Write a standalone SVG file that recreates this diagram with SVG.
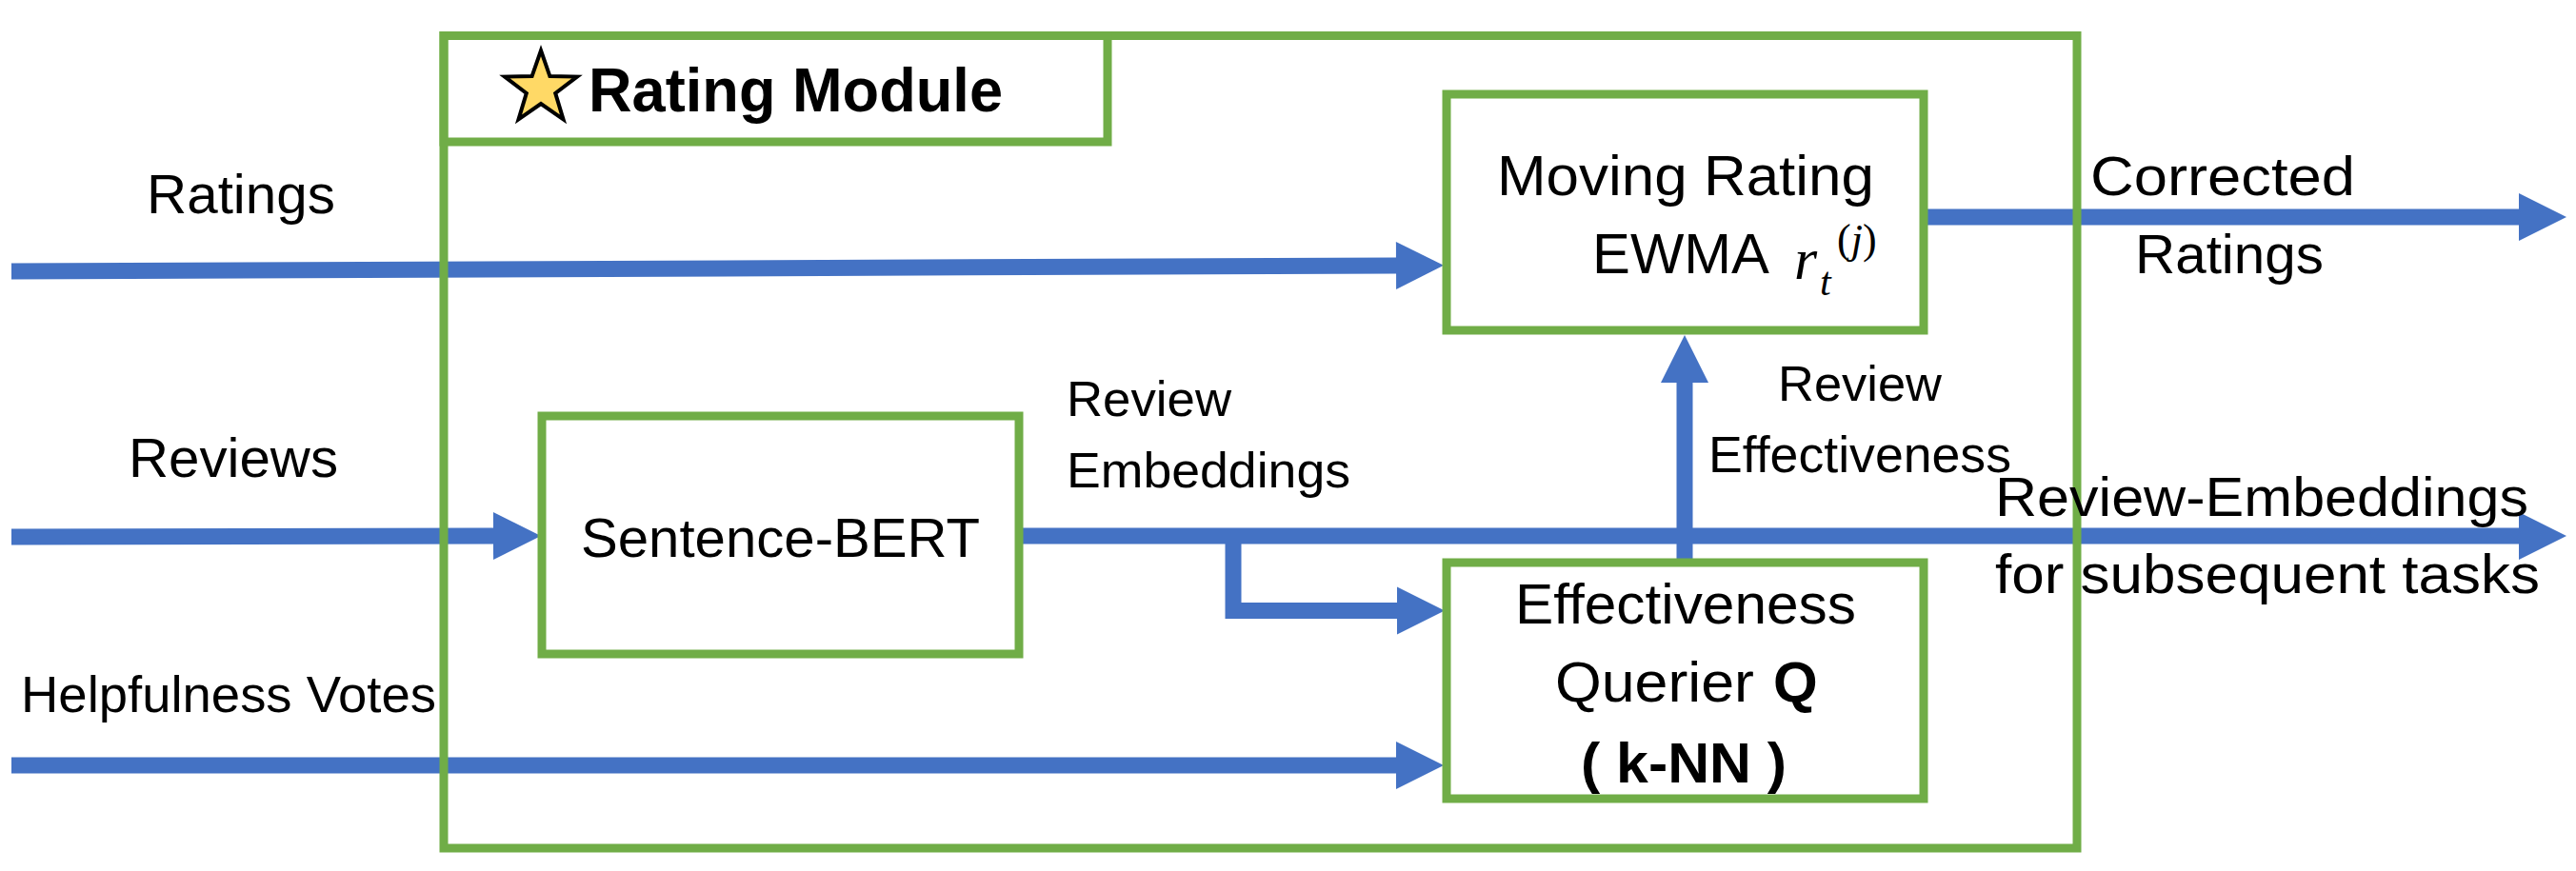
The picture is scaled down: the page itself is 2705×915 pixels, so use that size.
<svg xmlns="http://www.w3.org/2000/svg" width="2705" height="915" viewBox="0 0 2705 915">
<style>
.box{fill:#ffffff;stroke:#70AD47;stroke-width:9}
.frame{fill:none;stroke:#70AD47;stroke-width:9}
.ln{fill:none;stroke:#4472C4;stroke-width:17;stroke-linejoin:miter}
.t{font-family:"Liberation Sans",Arial,sans-serif;fill:#000000}
.b{font-weight:bold}
.m{font-family:"Liberation Serif","Times New Roman",serif;fill:#000000}
</style>
<defs>
<marker id="ah" markerUnits="userSpaceOnUse" markerWidth="52" markerHeight="52" viewBox="0 -26 52 52" refX="1" refY="0" orient="auto" overflow="visible">
<path d="M0,-25 L50,0 L0,25 Z" fill="#4472C4"/>
</marker>
</defs>
<rect x="0" y="0" width="2705" height="915" fill="#ffffff"/>
<rect x="466" y="37.5" width="1715" height="853.5" fill="#ffffff"/>

<g id="connectors">
<path class="ln" d="M12,285 L1467,279" marker-end="url(#ah)"/>
<path class="ln" d="M12,564 L519,563" marker-end="url(#ah)"/>
<path class="ln" d="M12,804 L1467,804" marker-end="url(#ah)"/>
<path class="ln" d="M1071,563 L2646,563" marker-end="url(#ah)"/>
<path class="ln" d="M1295,563 V641.5 H1468" marker-end="url(#ah)"/>
<path class="ln" d="M1769,591 V401" marker-end="url(#ah)"/>
<path class="ln" d="M2020,228 L2646,228" marker-end="url(#ah)"/>
</g>

<g id="rating-module">
<rect class="frame" x="466" y="37.5" width="1715" height="853.5"/>
<rect class="frame" x="466" y="37.5" width="697" height="111.5"/>
<polygon points="568,53 577.4,80.1 606,80.6 583.2,97.9 591.5,125.4 568,109 544.5,125.4 552.8,97.9 530,80.6 558.6,80.1" fill="#FFD966" stroke="#000000" stroke-width="4" stroke-linejoin="miter"/>
<text class="t b" x="618" y="117" font-size="64" textLength="435" lengthAdjust="spacingAndGlyphs">Rating Module</text>
</g>

<g id="moving-rating">
<rect class="box" x="1519" y="99" width="501" height="248"/>
<text class="t" x="1572" y="205" font-size="60" textLength="396" lengthAdjust="spacingAndGlyphs">Moving Rating</text>
<text class="t" x="1672" y="287" font-size="60" textLength="186" lengthAdjust="spacingAndGlyphs">EWMA</text>
<text class="m" x="1884" y="293" font-size="62" font-style="italic">r</text>
<text class="m" x="1911" y="310" font-size="42" font-style="italic">t</text>
<text class="m" x="1929" y="266" font-size="44">(<tspan font-style="italic">j</tspan>)</text>
</g>

<g id="sentence-bert">
<rect class="box" x="569" y="437" width="501" height="250"/>
<text class="t" x="610" y="585" font-size="58" textLength="419" lengthAdjust="spacingAndGlyphs">Sentence-BERT</text>
</g>

<g id="querier">
<rect class="box" x="1519" y="591" width="501" height="248"/>
<text class="t" x="1591" y="655" font-size="60" textLength="358" lengthAdjust="spacingAndGlyphs">Effectiveness</text>
<text class="t" x="1633" y="737" font-size="60" textLength="209" lengthAdjust="spacingAndGlyphs">Querier</text>
<text class="t b" x="1862" y="737" font-size="60">Q</text>
<text class="t b" x="1660" y="822" font-size="60" textLength="216" lengthAdjust="spacingAndGlyphs">( k-NN )</text>
</g>

<g id="labels">
<text class="t" x="154" y="224" font-size="58" textLength="198" lengthAdjust="spacingAndGlyphs">Ratings</text>
<text class="t" x="135" y="501" font-size="58" textLength="220" lengthAdjust="spacingAndGlyphs">Reviews</text>
<text class="t" x="22" y="748" font-size="54" textLength="436" lengthAdjust="spacingAndGlyphs">Helpfulness Votes</text>
<text class="t" x="1120" y="437" font-size="52" textLength="173" lengthAdjust="spacingAndGlyphs">Review</text>
<text class="t" x="1120" y="512" font-size="52" textLength="298" lengthAdjust="spacingAndGlyphs">Embeddings</text>
<text class="t" x="1867" y="421" font-size="52" textLength="172" lengthAdjust="spacingAndGlyphs">Review</text>
<text class="t" x="1794" y="496" font-size="53" textLength="318" lengthAdjust="spacingAndGlyphs">Effectiveness</text>
<text class="t" x="2195" y="205" font-size="58" textLength="278" lengthAdjust="spacingAndGlyphs">Corrected</text>
<text class="t" x="2242" y="287" font-size="58" textLength="198" lengthAdjust="spacingAndGlyphs">Ratings</text>
<text class="t" x="2095" y="542" font-size="58" textLength="560" lengthAdjust="spacingAndGlyphs">Review-Embeddings</text>
<text class="t" x="2095" y="623" font-size="58" textLength="572" lengthAdjust="spacingAndGlyphs">for subsequent tasks</text>
</g>
</svg>
